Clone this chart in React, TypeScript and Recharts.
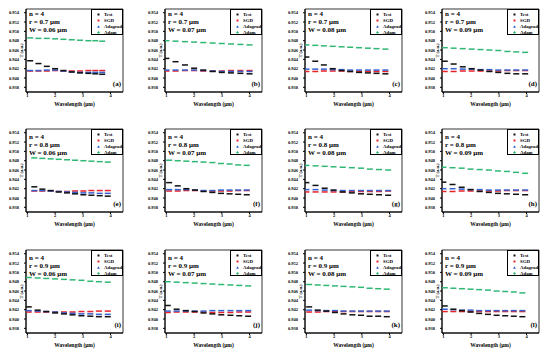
import React from 'react'
import { ScatterChart, Scatter, XAxis, YAxis, ReferenceArea } from 'recharts'

const FONT = "'Liberation Serif', 'Times New Roman', serif"

const PANEL_LABELS = ['(a)', '(b)', '(c)', '(d)', '(e)', '(f)', '(g)', '(h)', '(i)', '(j)', '(k)', '(l)']
const R_LABELS = ['0.7 μm', '0.8 μm', '0.9 μm']
const W_LABELS = ['0.06 μm', '0.07 μm', '0.08 μm', '0.09 μm']
const SERIES_NAMES = ['Test', 'SGD', 'Adagrad', 'Adam']
const COLORS = ['#111111', '#e8232a', '#3560d0', '#2fb874']

const X_TICKS = [1, 2, 3, 4]
const Y_TICKS = [0.938, 0.94, 0.942, 0.944, 0.946, 0.948, 0.95, 0.952, 0.954]
const X_DOMAIN = [0.95, 4.45]
const Y_DOMAIN = [0.937, 0.9548]

// wavelength samples, one row per panel (a)..(l)
const WAVELENGTHS = [
  [1.1, 1.4, 1.7, 2.0, 2.3, 2.6, 2.9, 3.2, 3.45, 3.7],
  [1.0, 1.33, 1.67, 2.0, 2.33, 2.67, 3.0, 3.33, 3.67, 4.0],
  [1.0, 1.32, 1.63, 1.95, 2.27, 2.58, 2.9, 3.22, 3.53, 3.85],
  [1.05, 1.37, 1.7, 2.02, 2.34, 2.66, 2.98, 3.31, 3.63, 3.95],
  [1.25, 1.54, 1.84, 2.13, 2.43, 2.72, 3.02, 3.31, 3.61, 3.9],
  [1.1, 1.41, 1.72, 2.03, 2.34, 2.66, 2.97, 3.28, 3.59, 3.9],
  [1.0, 1.33, 1.66, 1.98, 2.31, 2.64, 2.97, 3.29, 3.62, 3.95],
  [1.0, 1.33, 1.66, 1.98, 2.31, 2.64, 2.97, 3.29, 3.62, 3.95],
  [1.05, 1.37, 1.68, 2.0, 2.32, 2.63, 2.95, 3.27, 3.58, 3.9],
  [1.05, 1.37, 1.7, 2.02, 2.34, 2.66, 2.98, 3.31, 3.63, 3.95],
  [1.1, 1.41, 1.72, 2.03, 2.34, 2.66, 2.97, 3.28, 3.59, 3.9],
  [1.05, 1.36, 1.67, 1.98, 2.29, 2.61, 2.92, 3.23, 3.54, 3.85],
]

const TEST = [
  [0.9437, 0.9431, 0.9425, 0.942, 0.9416, 0.9413, 0.9411, 0.941, 0.9409, 0.9408],
  [0.9442, 0.9435, 0.9428, 0.9421, 0.9417, 0.9414, 0.9412, 0.9411, 0.941, 0.9409],
  [0.9445, 0.9436, 0.9428, 0.942, 0.9416, 0.9414, 0.9412, 0.9411, 0.941, 0.9409],
  [0.9436, 0.943, 0.9424, 0.942, 0.9417, 0.9414, 0.9412, 0.941, 0.9409, 0.9409],
  [0.9424, 0.9419, 0.9416, 0.9413, 0.9411, 0.9409, 0.9407, 0.9406, 0.9405, 0.9404],
  [0.9433, 0.9426, 0.942, 0.9417, 0.9414, 0.9412, 0.941, 0.9409, 0.9408, 0.9407],
  [0.9433, 0.9427, 0.9421, 0.9417, 0.9413, 0.9411, 0.9409, 0.9408, 0.9407, 0.9406],
  [0.9434, 0.9429, 0.9423, 0.9418, 0.9414, 0.9412, 0.941, 0.9409, 0.9408, 0.9407],
  [0.9426, 0.9419, 0.9416, 0.9413, 0.9411, 0.9409, 0.9407, 0.9406, 0.9405, 0.9405],
  [0.9429, 0.9421, 0.9418, 0.9416, 0.9413, 0.9411, 0.9409, 0.9408, 0.9407, 0.9406],
  [0.9426, 0.9419, 0.9417, 0.9414, 0.9411, 0.9409, 0.9408, 0.9406, 0.9406, 0.9405],
  [0.9428, 0.9421, 0.9418, 0.9415, 0.9412, 0.941, 0.9408, 0.9407, 0.9406, 0.9405],
]

const SGD = [
  [0.9415, 0.9415, 0.9415, 0.9416, 0.9415, 0.9415, 0.9415, 0.9416, 0.9416, 0.9416],
  [0.9415, 0.9415, 0.9416, 0.9416, 0.9415, 0.9415, 0.9415, 0.9416, 0.9416, 0.9416],
  [0.9414, 0.9414, 0.9415, 0.9415, 0.9415, 0.9414, 0.9414, 0.9414, 0.9414, 0.9414],
  [0.9414, 0.9414, 0.9415, 0.9415, 0.9415, 0.9415, 0.9415, 0.9416, 0.9416, 0.9416],
  [0.9415, 0.9415, 0.9415, 0.9414, 0.9414, 0.9415, 0.9415, 0.9416, 0.9416, 0.9416],
  [0.9415, 0.9415, 0.9416, 0.9416, 0.9415, 0.9415, 0.9415, 0.9415, 0.9416, 0.9416],
  [0.9413, 0.9413, 0.9413, 0.9413, 0.9413, 0.9414, 0.9414, 0.9414, 0.9414, 0.9415],
  [0.9414, 0.9414, 0.9415, 0.9415, 0.9415, 0.9415, 0.9415, 0.9416, 0.9416, 0.9416],
  [0.9415, 0.9415, 0.9415, 0.9415, 0.9415, 0.9415, 0.9416, 0.9416, 0.9417, 0.9417],
  [0.9414, 0.9415, 0.9415, 0.9415, 0.9415, 0.9414, 0.9414, 0.9414, 0.9415, 0.9415],
  [0.9415, 0.9415, 0.9416, 0.9416, 0.9416, 0.9416, 0.9416, 0.9416, 0.9416, 0.9416],
  [0.9416, 0.9416, 0.9416, 0.9416, 0.9416, 0.9416, 0.9416, 0.9416, 0.9416, 0.9416],
]

const ADAGRAD = [
  [0.9416, 0.9416, 0.9417, 0.9417, 0.9415, 0.9413, 0.9412, 0.9412, 0.9412, 0.9412],
  [0.9417, 0.9417, 0.9417, 0.9417, 0.9416, 0.9415, 0.9414, 0.9414, 0.9414, 0.9414],
  [0.9419, 0.9419, 0.9419, 0.9418, 0.9418, 0.9417, 0.9417, 0.9417, 0.9417, 0.9417],
  [0.942, 0.942, 0.9419, 0.9419, 0.9418, 0.9418, 0.9417, 0.9417, 0.9417, 0.9417],
  [0.9416, 0.9416, 0.9415, 0.9414, 0.9413, 0.9412, 0.9411, 0.9411, 0.941, 0.941],
  [0.9418, 0.9418, 0.9418, 0.9417, 0.9416, 0.9416, 0.9417, 0.9417, 0.9417, 0.9417],
  [0.9418, 0.9418, 0.9417, 0.9416, 0.9416, 0.9416, 0.9416, 0.9416, 0.9416, 0.9416],
  [0.942, 0.942, 0.9419, 0.9418, 0.9418, 0.9417, 0.9417, 0.9417, 0.9417, 0.9417],
  [0.9418, 0.9417, 0.9416, 0.9415, 0.9413, 0.9412, 0.9411, 0.9411, 0.941, 0.941],
  [0.9417, 0.9417, 0.9417, 0.9417, 0.9417, 0.9418, 0.9418, 0.9418, 0.9418, 0.9418],
  [0.9419, 0.9418, 0.9418, 0.9418, 0.9417, 0.9417, 0.9417, 0.9417, 0.9417, 0.9417],
  [0.9421, 0.942, 0.9419, 0.9419, 0.9418, 0.9418, 0.9418, 0.9418, 0.9418, 0.9418],
]

const ADAM = [
  [0.9486, 0.9485, 0.9485, 0.9484, 0.9483, 0.9482, 0.9481, 0.948, 0.948, 0.9479],
  [0.948, 0.9479, 0.9478, 0.9477, 0.9476, 0.9475, 0.9474, 0.9473, 0.9472, 0.9471],
  [0.9471, 0.947, 0.9469, 0.9468, 0.9467, 0.9466, 0.9465, 0.9464, 0.9463, 0.9462],
  [0.9465, 0.9464, 0.9463, 0.9462, 0.9461, 0.946, 0.9459, 0.9457, 0.9456, 0.9455],
  [0.9486, 0.9485, 0.9484, 0.9483, 0.9482, 0.9481, 0.948, 0.9479, 0.9478, 0.9477],
  [0.9481, 0.948, 0.9479, 0.9478, 0.9477, 0.9476, 0.9474, 0.9473, 0.9471, 0.947],
  [0.947, 0.9469, 0.9468, 0.9467, 0.9466, 0.9465, 0.9464, 0.9462, 0.9461, 0.946],
  [0.9466, 0.9465, 0.9464, 0.9462, 0.9461, 0.946, 0.9458, 0.9457, 0.9455, 0.9453],
  [0.9489, 0.9488, 0.9487, 0.9486, 0.9485, 0.9484, 0.9483, 0.9481, 0.948, 0.9479],
  [0.948, 0.9479, 0.9478, 0.9477, 0.9476, 0.9475, 0.9474, 0.9473, 0.9472, 0.9471],
  [0.9474, 0.9473, 0.9472, 0.9471, 0.947, 0.9469, 0.9468, 0.9466, 0.9465, 0.9464],
  [0.9467, 0.9466, 0.9465, 0.9464, 0.9463, 0.9462, 0.946, 0.9459, 0.9458, 0.9456],
]

// layout of the plot boxes
const BOX_LEFT = [26, 165, 305, 442]
const BOX_TOP = [9, 129, 250]
const BOX_W = 97
const BOX_H = 83
const Y_AXIS_W = 24
const X_AXIS_H = 22
const ANNOT_TOP = [4.5, 8, 8]

const tickStyle = { fontSize: 4.5, fontFamily: FONT, fontWeight: 'bold', fill: '#000' }

const dash = (color: string) => (props: any) => (
  <rect x={props.cx - 3} y={props.cy - 0.75} width={6} height={1.5} fill={color} />
)

function Marker({ index, color }: { index: number; color: string }) {
  if (index === 2) return <svg width={3} height={3}><polygon points="1.5,0.2 2.9,2.8 0.1,2.8" fill={color} /></svg>
  if (index === 3) return <svg width={3} height={3}><polygon points="1.5,0 3,1.5 1.5,3 0,1.5" fill={color} /></svg>
  return <svg width={3} height={3}><rect x={0.5} y={0.5} width={2} height={2} fill={color} /></svg>
}

function Panel({ i }: { i: number }) {
  const col = i % 4
  const row = Math.floor(i / 4)
  const left = BOX_LEFT[col] - Y_AXIS_W
  const top = BOX_TOP[row] - 1
  const xs = WAVELENGTHS[i]
  const series = [TEST[i], SGD[i], ADAGRAD[i], ADAM[i]]
  const toPoints = (vals: number[]) => xs.map((x, k) => ({ x, y: vals[k] }))
  const drawOrder = [3, 1, 2, 0]

  const annot = ['n = 4', `r = ${R_LABELS[row]}`, `W = ${W_LABELS[col]}`]

  return (
    <div style={{ position: 'absolute', left, top, width: Y_AXIS_W + BOX_W + 2, height: BOX_H + X_AXIS_H + 1 }}>
      <ScatterChart
        width={Y_AXIS_W + BOX_W + 2}
        height={BOX_H + X_AXIS_H + 1}
        margin={{ top: 1, right: 2, left: 0, bottom: 0 }}
      >
        <XAxis
          type="number"
          dataKey="x"
          domain={X_DOMAIN}
          ticks={X_TICKS}
          allowDataOverflow
          height={X_AXIS_H}
          tickSize={2}
          tickMargin={0}
          stroke="#000"
          tick={tickStyle}
          interval={0}
          label={{
            value: 'Wavelength (μm)',
            position: 'insideBottom',
            offset: 8,
            fontSize: 5.5,
            fontFamily: FONT,
            fontWeight: 'bold',
            fill: '#000',
          }}
        />
        <YAxis
          type="number"
          dataKey="y"
          domain={Y_DOMAIN}
          ticks={Y_TICKS}
          allowDataOverflow
          width={Y_AXIS_W}
          tickSize={2}
          tickMargin={5}
          stroke="#000"
          tick={tickStyle}
          interval={0}
          tickFormatter={(v: number) => v.toFixed(3)}
          label={(props: any) => {
            const vb = props.viewBox || { x: 0, y: 0, width: Y_AXIS_W, height: BOX_H }
            const lx = vb.x + vb.width - 3.5
            const ly = vb.y + vb.height / 2
            return (
              <text
                x={lx}
                y={ly}
                transform={`rotate(-90, ${lx}, ${ly})`}
                textAnchor="middle"
                fontSize={4.5}
                fontFamily={FONT}
                fontWeight="bold"
                fill="#000"
              >
                T (a.u.)
              </text>
            )
          }}
        />
        <ReferenceArea
          x1={X_DOMAIN[0]}
          x2={X_DOMAIN[1]}
          y1={Y_DOMAIN[0]}
          y2={Y_DOMAIN[1]}
          fill="none"
          stroke="#000"
          strokeWidth={0.8}
        />
        {drawOrder.map((s) => (
          <Scatter
            key={SERIES_NAMES[s]}
            name={SERIES_NAMES[s]}
            data={toPoints(series[s])}
            fill={COLORS[s]}
            shape={dash(COLORS[s])}
            isAnimationActive={false}
          />
        ))}
      </ScatterChart>

      {/* parameter text */}
      {annot.map((t, k) => (
        <div
          key={t}
          style={{
            position: 'absolute',
            left: Y_AXIS_W + 3,
            top: 1 + ANNOT_TOP[row] + k * 8.2 - 4,
            fontSize: 7,
            lineHeight: '8px',
            fontFamily: FONT,
            fontWeight: 'bold',
            whiteSpace: 'nowrap',
          }}
        >
          {t}
        </div>
      ))}

      {/* legend */}
      <div
        style={{
          position: 'absolute',
          left: Y_AXIS_W + BOX_W - 32,
          top: 1,
          width: 32,
          height: 26,
          border: '0.6px solid #000',
          boxSizing: 'border-box',
          background: '#fff',
        }}
      >
        {SERIES_NAMES.map((n, k) => (
          <div
            key={n}
            style={{
              position: 'absolute',
              left: 5,
              top: 1.5 + k * 6,
              height: 5,
              display: 'flex',
              alignItems: 'center',
              gap: 4,
              fontSize: 4.8,
              fontFamily: FONT,
              fontWeight: 'bold',
              whiteSpace: 'nowrap',
            }}
          >
            <Marker index={k} color={COLORS[k]} />
            <span>{n}</span>
          </div>
        ))}
      </div>

      {/* panel letter */}
      <div
        style={{
          position: 'absolute',
          right: 4,
          top: 1 + BOX_H - 12,
          fontSize: 7,
          lineHeight: '8px',
          fontFamily: FONT,
          fontWeight: 'bold',
        }}
      >
        {PANEL_LABELS[i]}
      </div>
    </div>
  )
}

export default function App() {
  return (
    <div style={{ position: 'absolute', left: 0, top: 0, width: 550, height: 352, background: '#fff', overflow: 'hidden' }}>
      {PANEL_LABELS.map((_, i) => (
        <Panel key={i} i={i} />
      ))}
    </div>
  )
}
